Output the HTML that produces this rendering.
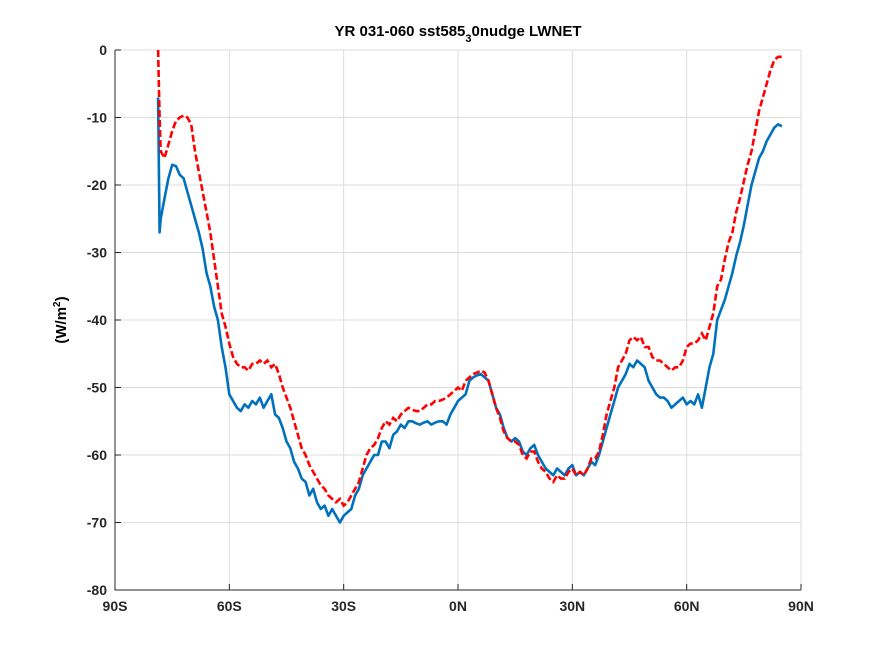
<!DOCTYPE html>
<html><head><meta charset="utf-8"><style>
body{margin:0;background:#fff;}
svg text{font-family:"Liberation Sans","DejaVu Sans",sans-serif;font-weight:bold;}
</style></head><body>
<svg id="chart" width="884" height="663" xmlns="http://www.w3.org/2000/svg">
<rect width="884" height="663" fill="#fff"/>
<text x="458" y="36" text-anchor="middle" font-size="15">YR 031-060 sst585<tspan font-size="11" dy="6">3</tspan><tspan dy="-6">0nudge LWNET</tspan></text>
<text transform="translate(66,320) rotate(-90)" text-anchor="middle" font-size="15">(W/m<tspan font-size="10" dy="-6">2</tspan><tspan dy="6">)</tspan></text>
<g id="grid"></g>
<g id="axes"></g>
<g id="series"></g>
</svg>
<script>
const xTicks=[-90,-60,-30,0,30,60,90];
const xTickLabels=["90S","60S","30S","0N","30N","60N","90N"];
const yTicks=[0,-10,-20,-30,-40,-50,-60,-70,-80];
const lats=[-78.7,-78.3,-78,-77,-76,-75,-74,-73,-72,-71,-70,-69,-68,-67,-66,-65,-64,-63,-62,-61,-60,-59,-58,-57,-56,-55,-54,-53,-52,-51,-50,-49,-48,-47,-46,-45,-44,-43,-42,-41,-40,-39,-38,-37,-36,-35,-34,-33,-32,-31,-30,-29,-28,-27,-26,-25,-24,-23,-22,-21,-20,-19,-18,-17,-16,-15,-14,-13,-12,-11,-10,-9,-8,-7,-6,-5,-4,-3,-2,-1,0,1,2,3,4,5,6,7,8,9,10,11,12,13,14,15,16,17,18,19,20,21,22,23,24,25,26,27,28,29,30,31,32,33,34,35,36,37,38,39,40,41,42,43,44,45,46,47,48,49,50,51,52,53,54,55,56,57,58,59,60,61,62,63,64,65,66,67,68,69,70,71,72,73,74,75,76,77,78,79,80,81,82,83,84,85];
const blueVals=[-7,-27,-25,-22,-19,-17,-17.2,-18.5,-19,-21,-23,-25,-27,-29.5,-33,-35,-38,-40,-44,-47,-51,-52,-53,-53.5,-52.5,-53,-52,-52.5,-51.5,-53,-52,-51,-54,-54.5,-56,-58,-59,-61,-62,-63.5,-64,-66,-65,-67,-68,-67.5,-69,-68,-69,-70,-69,-68.5,-68,-66,-65,-63,-62,-61,-60,-60,-58,-58,-59,-57,-56.5,-55.5,-56,-55,-55,-55.3,-55.5,-55.2,-55,-55.5,-55.2,-55,-55,-55.5,-54,-53,-52,-51.5,-51,-49,-48.5,-48.2,-48,-48.5,-49,-51,-53,-54,-56,-57.5,-58,-57.5,-58,-59.5,-60,-59,-58.5,-60,-61,-62,-62.5,-63,-62,-62.5,-63,-62,-61.5,-63,-62.5,-63,-62,-61,-61.5,-60,-58,-56,-54,-52,-50,-49,-48,-46.5,-47,-46,-46.5,-47,-49,-50,-51,-51.5,-51.5,-52,-53,-52.5,-52,-51.5,-52.5,-52,-52.5,-51,-53,-50,-47,-45,-40,-38.5,-37,-35,-33,-30.5,-28.5,-26,-23,-20,-18,-16,-15,-13.5,-12.5,-11.5,-11,-11.3];
const redVals=[0,-10,-15,-16,-14,-12,-10.5,-10,-9.7,-10,-11,-15,-18,-21,-24,-27,-31,-35,-39,-41,-43.5,-45.5,-46.5,-47,-47,-47.5,-46.5,-46.5,-46,-46.5,-46,-47,-46.5,-48,-50,-51.5,-53,-55,-57,-59,-60,-61.5,-62.5,-63.5,-64.5,-65,-66,-66.5,-67,-66.5,-67.5,-67,-66,-65,-64,-62,-60,-59,-58.5,-57.5,-56,-55,-55.5,-54.5,-55,-54,-53.5,-53,-53.3,-53.5,-53.5,-53,-52.5,-52.5,-52,-52,-51.8,-51.5,-51,-50.5,-50,-50.5,-49,-48.5,-48,-47.8,-47.5,-47.8,-49,-51,-53,-54.5,-56.5,-57.5,-58,-58,-58.5,-60,-60.5,-59.5,-59.5,-61,-62,-62.5,-63.5,-64,-63,-63.5,-63.5,-62.5,-62,-63,-62.5,-63,-62,-60.5,-60.5,-59.5,-57,-54,-52,-50,-47,-46,-45,-43,-42.5,-43,-42.5,-44,-44,-45.5,-46,-46,-46.5,-47,-47.5,-47,-47,-46,-44,-43.5,-43.5,-43,-42,-43,-41,-39,-35,-34,-31,-28.5,-27,-24,-22,-19.5,-17,-15,-12,-9,-7,-5,-3,-1.5,-1,-1];
const NS="http://www.w3.org/2000/svg";
const L=115,R=801,T=50,B=590;
const xS=v=>L+(v+90)/180*(R-L);
const yS=v=>T+(0-v)/80*(B-T);
function mk(tag,attrs,parent){const e=document.createElementNS(NS,tag);for(const k in attrs)e.setAttribute(k,attrs[k]);parent.appendChild(e);return e;}
const grid=document.getElementById('grid'),axes=document.getElementById('axes'),series=document.getElementById('series');
xTicks.forEach((t,i)=>{
 const g=mk('line',{x1:xS(t),x2:xS(t),y1:T,y2:B,stroke:'#dcdcdc','stroke-width':1},grid);
 
 
 const tk=mk('line',{x1:xS(t),x2:xS(t),y1:B,y2:B-6,stroke:'#262626','stroke-width':1},axes);
 
 
 const lb=mk('text',{x:xS(t),y:B+21,'text-anchor':'middle','font-size':14,fill:'#262626'},axes);
 lb.textContent=xTickLabels[i];
 
 
});
yTicks.forEach(t=>{
 const g=mk('line',{x1:L,x2:R,y1:yS(t),y2:yS(t),stroke:'#dcdcdc','stroke-width':1},grid);
 
 
 const tk=mk('line',{x1:L,x2:L+6,y1:yS(t),y2:yS(t),stroke:'#262626','stroke-width':1},axes);
 
 
 const lb=mk('text',{x:L-8,y:yS(t)+5,'text-anchor':'end','font-size':14,fill:'#262626'},axes);
 lb.textContent=String(t);
 
 
});
const ax=mk('path',{d:`M${L},${T}V${B}H${R}`,fill:'none',stroke:'#262626','stroke-width':1},axes);


function pathOf(vals){return vals.map((v,i)=>(i?'L':'M')+xS(lats[i]).toFixed(1)+','+yS(v).toFixed(1)).join('');}
const bl=mk('path',{d:pathOf(blueVals),fill:'none',stroke:'#0072bd','stroke-width':2.6,'stroke-linejoin':'round'},series);


const rl=mk('path',{d:pathOf(redVals),fill:'none',stroke:'#ff0000','stroke-width':2.6,'stroke-dasharray':'7,3'},series);


</script>
</body></html>
